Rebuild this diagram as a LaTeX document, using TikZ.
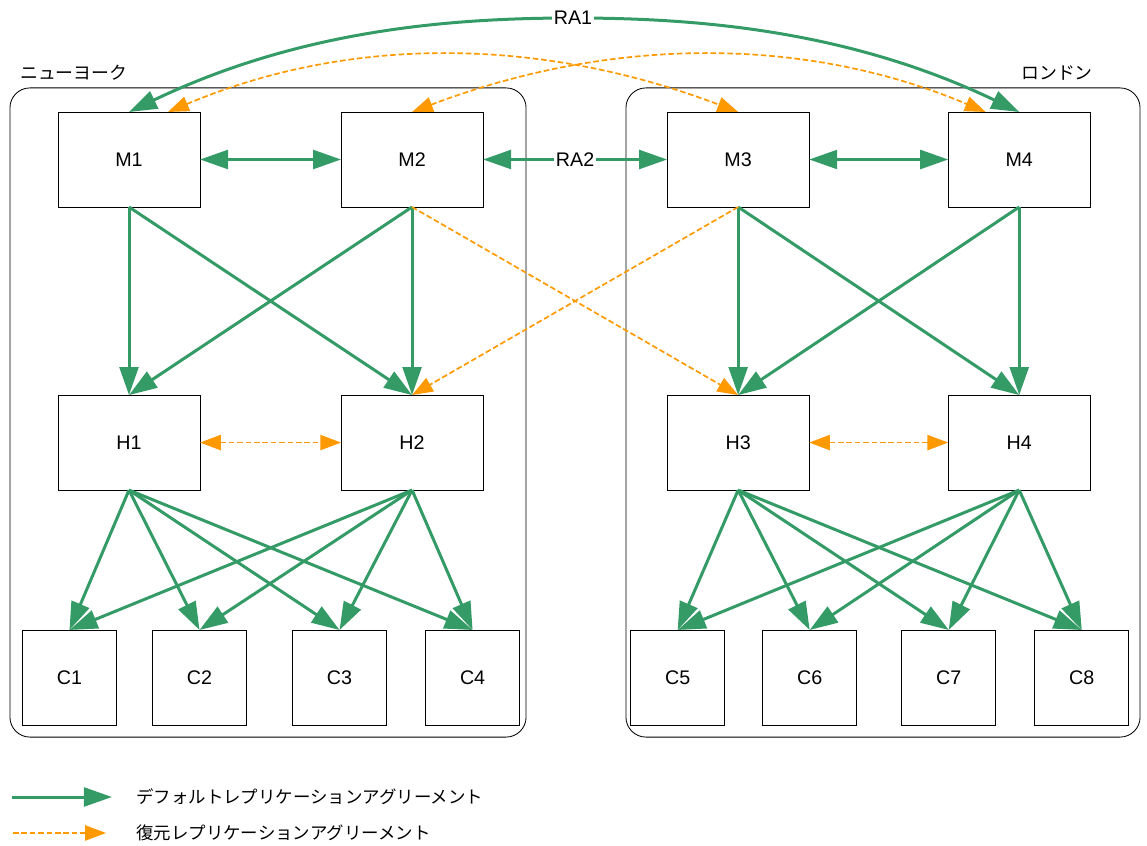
\documentclass[tikz,border=0pt]{standalone}
\usepackage{fontspec}
\setmainfont{Liberation Sans}
\newfontfamily\jpfont{Noto Sans CJK JP}
\usepackage{tikz}
\usetikzlibrary{arrows.meta, positioning}

\definecolor{defgreen}{RGB}{52,155,102}
\definecolor{resorange}{RGB}{255,153,0}

\begin{document}
\begin{tikzpicture}[
  x=0.025cm, y=-0.025cm,
  server/.style={rectangle, draw, line width=0.6pt, fill=white, minimum width=3.55cm, minimum height=2.375cm, outer sep=0pt, font=\fontsize{14}{16}\selectfont},
  consumer/.style={server, minimum width=2.35cm},
  site/.style={rectangle, draw, line width=0.6pt, rounded corners=0.5cm, outer sep=0pt},
  sitename/.style={inner sep=0pt, font=\jpfont\fontsize{12.7}{15}\selectfont},
  legendtext/.style={anchor=west, inner sep=0pt, font=\jpfont\fontsize{12.4}{15}\selectfont},
  ralabel/.style={fill=white, inner sep=1.5pt, text=black, font=\fontsize{14}{16}\selectfont},
  defrep/.style={line width=0.075cm, defgreen, >={Triangle[length=0.7cm, width=0.47cm]}},
  resrep/.style={line width=0.042cm, resorange, dash pattern=on 0.14cm off 0.07cm, >={Triangle[length=0.52cm, width=0.38cm]}}
]
  \useasboundingbox (0,0) rectangle (1147,846);

  % sites
  \node[site, minimum width=12.9cm, minimum height=16.225cm] (ny) at (268,412.5) {};
  \node[site, minimum width=12.85cm, minimum height=16.225cm] (ldn) at (883,412.5) {};
  \node[sitename, anchor=west] (nyname) at (20,73) {ニューヨーク};
  \node[sitename, anchor=east] (ldnname) at (1093,73) {ロンドン};

  % masters
  \node[server] (M1) at (129,159.5) {M1};
  \node[server, right=3.525cm of M1] (M2) {M2};
  \node[server, right=4.6cm of M2] (M3) {M3};
  \node[server, right=3.475cm of M3] (M4) {M4};

  % hubs
  \node[server, below=4.7cm of M1] (H1) {H1};
  \node[server, below=4.7cm of M2] (H2) {H2};
  \node[server, below=4.7cm of M3] (H3) {H3};
  \node[server, below=4.7cm of M4] (H4) {H4};

  % consumers
  \node[consumer] (C1) at (69.5,677.5) {C1};
  \node[consumer, right=0.9cm of C1] (C2) {C2};
  \node[consumer, right=1.15cm of C2] (C3) {C3};
  \node[consumer, right=0.975cm of C3] (C4) {C4};
  \node[consumer, right=2.775cm of C4] (C5) {C5};
  \node[consumer, right=0.95cm of C5] (C6) {C6};
  \node[consumer, right=1.125cm of C6] (C7) {C7};
  \node[consumer, right=0.975cm of C7] (C8) {C8};

  % default agreements
  \foreach \m in {1,2} \foreach \h in {1,2} \draw[defrep, ->] (M\m.south) -- (H\h.north);
  \foreach \m in {3,4} \foreach \h in {3,4} \draw[defrep, ->] (M\m.south) -- (H\h.north);
  \foreach \h in {1,2} \foreach \c in {1,...,4} \draw[defrep, ->] (H\h.south) -- (C\c.north);
  \foreach \h in {3,4} \foreach \c in {5,...,8} \draw[defrep, ->] (H\h.south) -- (C\c.north);
  \draw[defrep, <->] (M1) -- (M2);
  \draw[defrep, <->] (M3) -- (M4);
  \draw[defrep, <->] (M2) -- node[ralabel] (ra2) {RA2} (M3);
  \coordinate (ra1top) at (573,18);
  \draw[defrep, <->] (M1.north) .. controls +(171,-82) and +(-123,0) .. (ra1top) node[ralabel] (ra1) {RA1}
    .. controls +(123,0) and +(-171,-82) .. (M4.north);

  % restore agreements
  \draw[resrep, <->] ([xshift=0.975cm]M1.north) .. controls +(180,-76) and +(-200,-76) .. (M3.north);
  \draw[resrep, <->] (M2.north) .. controls +(200,-76) and +(-180,-76) .. ([xshift=-0.84cm]M4.north);
  \draw[resrep, ->] (M2.south) -- (H3.north);
  \draw[resrep, ->] (M3.south) -- (H2.north);
  \draw[resrep, <->] (H1) -- (H2);
  \draw[resrep, <->] (H3) -- (H4);

  % legend
  \coordinate (lgdefa) at (12,797);
  \coordinate (lgdefb) at (112,797);
  \coordinate (lgresa) at (13,833);
  \coordinate (lgresb) at (106,833);
  \draw[defrep, ->] (lgdefa) -- (lgdefb);
  \draw[resrep, ->] (lgresa) -- (lgresb);
  \node[legendtext] (lgdef) at (136,797) {デフォルトレプリケーションアグリーメント};
  \node[legendtext] (lgres) at (136,833) {復元レプリケーションアグリーメント};
\end{tikzpicture}
\end{document}
